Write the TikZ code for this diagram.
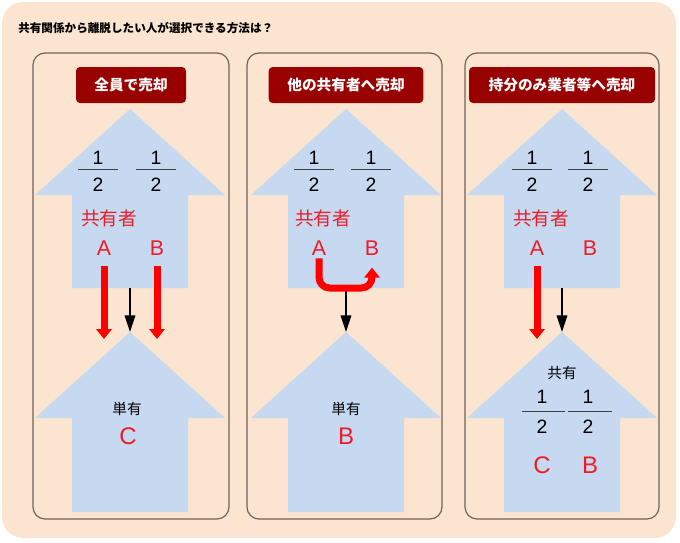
\documentclass[tikz,border=0pt]{standalone}
\usepackage{fontspec}
\setmainfont{Liberation Sans}
\newfontfamily\jp{Noto Sans CJK JP}
\usetikzlibrary{arrows.meta}
\definecolor{peach}{HTML}{FBE5D0}
\definecolor{lightblue}{HTML}{C6D9F1}
\definecolor{boxred}{HTML}{990000}
\definecolor{framegray}{HTML}{6F635A}
\definecolor{redtxt}{HTML}{EE1C25}

\begin{document}
\begin{tikzpicture}[x=0.75pt, y=-0.75pt,
  panel/.style={draw=framegray, line width=0.9pt, rounded corners=9pt},
  headbox/.style={fill=boxred, rounded corners=3pt, text=white, font=\jp\bfseries\fontsize{11}{11}\selectfont, minimum height=27pt, inner sep=0pt},
  bigarrow/.style={fill=lightblue},
  digit/.style={font=\fontsize{14.5}{14.5}\selectfont, inner sep=0pt},
  fracbar/.style={draw=black!75, line width=0.6pt},
  owner/.style={text=redtxt, font=\jp\fontsize{14}{14}\selectfont, inner sep=0pt},
  letter/.style={text=redtxt, font=\fontsize{16}{16}\selectfont, inner sep=0pt},
  bigletter/.style={text=redtxt, font=\fontsize{18}{18}\selectfont, inner sep=0pt},
  kind/.style={font=\jp\fontsize{11}{11}\selectfont, inner sep=0pt},
  redarrow/.style={draw=red, line width=5.25pt, -{Triangle[width=11.5pt, length=7.5pt]}},
  blackarrow/.style={draw=black, line width=1.1pt, -{Triangle[width=8pt, length=12.5pt]}}]
            \useasboundingbox (0,0) rectangle (680,542);
            \fill[white] (0,0) rectangle (680,542);
            \fill[peach, rounded corners=16pt] (2,2) rectangle (676,538); % the peach sheet behind everything
                  \node[anchor=west, font=\jp\bfseries\fontsize{8.7}{8.7}\selectfont, inner sep=0pt] (title) at (18,28) {共有関係から離脱したい人が選択できる方法は？};

            \draw[panel] (33,53) rectangle (229,519); % left panel
            \draw[panel] (247,53) rectangle (442,519); % middle panel
            \draw[panel] (465,53) rectangle (659,519); % right panel

                  \node[headbox, minimum width=82.5pt] (head1) at (131,85) {全員で売却};
                  \node[headbox, minimum width=116pt] (head2) at (346,85) {他の共有者へ売却};
                  \node[headbox, minimum width=139.5pt] (head3) at (562,85) {持分のみ業者等へ売却};

            % upper big arrows (shares before the sale)
            \fill[bigarrow] (130,109) -- (225,195) -- (188,195) -- (188,288) -- (72,288) -- (72,195) -- (35,195) -- cycle;
            \fill[bigarrow] (346,109) -- (441,195) -- (404,195) -- (404,288) -- (288,288) -- (288,195) -- (251,195) -- cycle;
            \fill[bigarrow] (562,109) -- (657,195) -- (620,195) -- (620,288) -- (504,288) -- (504,195) -- (467,195) -- cycle;
            % lower big arrows (after the sale)
            \fill[bigarrow] (130,332) -- (225,418) -- (188,418) -- (188,512) -- (72,512) -- (72,418) -- (35,418) -- cycle;
            \fill[bigarrow] (346,332) -- (441,418) -- (404,418) -- (404,512) -- (288,512) -- (288,418) -- (251,418) -- cycle;
            \fill[bigarrow] (562,332) -- (657,418) -- (620,418) -- (620,512) -- (504,512) -- (504,418) -- (467,418) -- cycle;

            \coordinate (up1b) at (130,288);
            \coordinate (up2b) at (346,288);
            \coordinate (up3b) at (562,288);
            \coordinate (lo1t) at (130,332);
            \coordinate (lo2t) at (346,332);
            \coordinate (lo3t) at (562,332);

            % fractions 1/2 in the upper arrows
                  \node[digit] (n11) at (98,158) {1};   \node[digit] (d11) at (98,185) {2};
                  \draw[fracbar] (78,169) -- (118,169);
                  \node[digit] (n12) at (156,158) {1};  \node[digit] (d12) at (156,185) {2};
                  \draw[fracbar] (136,169) -- (176,169);
                  \node[digit] (n21) at (314,158) {1};  \node[digit] (d21) at (314,185) {2};
                  \draw[fracbar] (294,169) -- (334,169);
                  \node[digit] (n22) at (371,158) {1};  \node[digit] (d22) at (371,185) {2};
                  \draw[fracbar] (351,169) -- (391,169);
                  \node[digit] (n31) at (532,158) {1};  \node[digit] (d31) at (532,185) {2};
                  \draw[fracbar] (512,169) -- (552,169);
                  \node[digit] (n32) at (588,158) {1};  \node[digit] (d32) at (588,185) {2};
                  \draw[fracbar] (568,169) -- (608,169);

                  \node[owner] (own1) at (109,218) {共有者};
                  \node[owner] (own2) at (323,218) {共有者};
                  \node[owner] (own3) at (541,218) {共有者};

                  \node[letter] (a1) at (104,248) {A};
                  \node[letter] (b1) at (157,248) {B};
                  \node[letter] (a2) at (319,248) {A};
                  \node[letter] (b2) at (372,248) {B};
                  \node[letter] (a3) at (537,248) {A};
                  \node[letter] (b3) at (590,248) {B};

            % lower texts
                  \node[kind] (sole1) at (127,409) {単有};
                  \node[bigletter] (c1) at (128,436) {C};
                  \node[kind] (sole2) at (346,409) {単有};
                  \node[bigletter] (b2low) at (346,436) {B};
                  \node[kind] (joint3) at (562,373) {共有};
                  \node[digit] (n41) at (542,397) {1};  \node[digit] (d41) at (542,427) {2};
                  \draw[fracbar] (522,411) -- (565,411);
                  \node[digit] (n42) at (588,397) {1};  \node[digit] (d42) at (588,427) {2};
                  \draw[fracbar] (568,411) -- (612,411);
                  \node[bigletter] (c3) at (542,465) {C};
                  \node[bigletter] (b3low) at (590,465) {B};

            % black arrows from the upper to the lower arrow
            \draw[blackarrow] (up1b) -- (lo1t);
            \draw[blackarrow] (up2b) -- (lo2t);
            \draw[blackarrow] (up3b) -- (lo3t);

            % red arrows for the sold shares
            \coordinate (r1a) at (104,339);
            \coordinate (r1b) at (157,339);
            \coordinate (r3a) at (537,339);
            \draw[redarrow, shorten <=8pt] (a1.south) -- (r1a);
            \draw[redarrow, shorten <=8pt] (b1.south) -- (r1b);
            \draw[redarrow, shorten <=8pt] (a3.south) -- (r3a);
            \draw[redarrow, rounded corners=8pt, shorten <=2pt, shorten >=9pt] (a2.south) |- (up2b) -| (b2.south); % A sells to B
      \end{tikzpicture}
\end{document}
